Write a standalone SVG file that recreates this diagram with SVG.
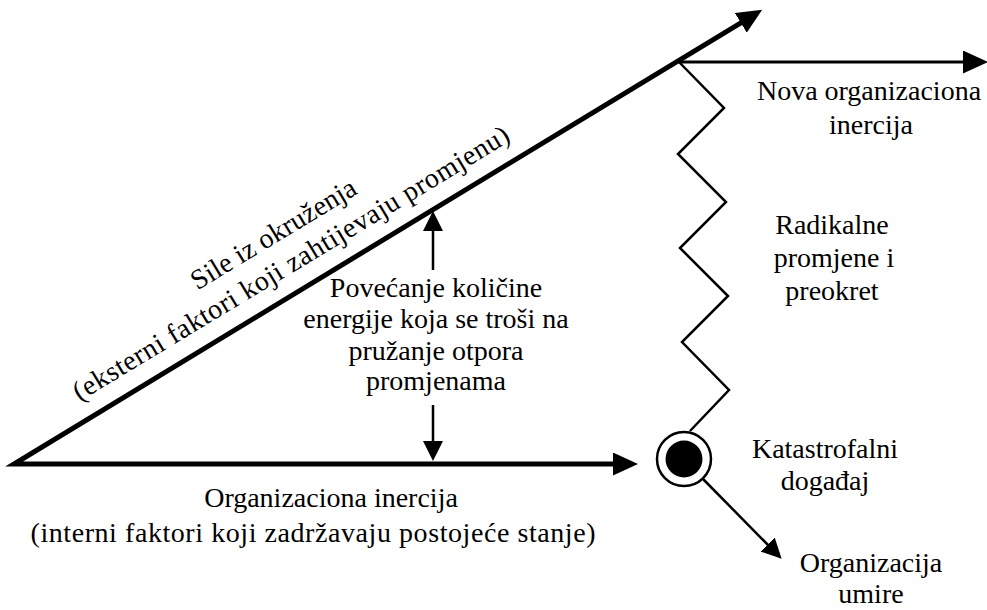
<svg xmlns="http://www.w3.org/2000/svg" width="987" height="610" viewBox="0 0 987 610">
<defs>
<style>
text{font-family:"Liberation Serif","Times New Roman",serif;font-size:28px;fill:#000;text-anchor:middle}
.thick{fill:none;stroke:#000;stroke-width:5;stroke-linejoin:miter}
.mid{fill:none;stroke:#000;stroke-width:3}
.thin{fill:none;stroke:#000;stroke-width:2.5}
</style>
<marker id="ah" markerUnits="userSpaceOnUse" markerWidth="25" markerHeight="23" refX="2" refY="11.5" orient="auto-start-reverse" viewBox="0 0 25 23">
<path d="M0,0 L25,11.5 L0,23 z" fill="#000"/>
</marker>
<marker id="ahs" markerUnits="userSpaceOnUse" markerWidth="20" markerHeight="20" refX="2" refY="10" orient="auto-start-reverse" viewBox="0 0 20 20">
<path d="M0,0 L20,10 L0,20 z" fill="#000"/>
</marker>
</defs>
<rect width="987" height="610" fill="#fff"/>
<g id="connectors">
<path class="thick" d="M742.5,21.8 L14,464 L615,464" marker-start="url(#ah)" marker-end="url(#ah)"/>
<path class="mid" d="M679,62 L965,62" marker-end="url(#ah)"/>
<polyline class="thin" points="679,62 724,108 678,154 726,202 680,248 728,296 682,342 729,390 690,431"/>
<path class="thin" d="M433,270 L433,229" marker-end="url(#ahs)"/>
<path class="thin" d="M433,405 L433,443" marker-end="url(#ahs)"/>
<path class="thin" d="M703,479 L769,546" marker-end="url(#ahs)"/>
</g>
<g id="event">
<circle cx="684" cy="459" r="27" fill="#fff" stroke="#000" stroke-width="2.5"/>
<circle cx="684" cy="459" r="18.5" fill="#000"/>
</g>
<g id="label-sile" transform="translate(306,288) rotate(-31.15)">
<text x="0" y="-54">Sile iz okruženja</text>
<text x="0" y="-20" textLength="505" lengthAdjust="spacing">(eksterni faktori koji zahtijevaju promjenu)</text>
</g>
<g id="label-nova">
<text x="869" y="100">Nova organizaciona</text>
<text x="871" y="134">inercija</text>
</g>
<g id="label-radikalne">
<text x="832" y="234">Radikalne</text>
<text x="834" y="267">promjene i</text>
<text x="832" y="300">preokret</text>
</g>
<g id="label-katastrofalni">
<text x="825" y="458">Katastrofalni</text>
<text x="825" y="490">događaj</text>
</g>
<g id="label-umire">
<text x="871" y="572">Organizacija</text>
<text x="871" y="603">umire</text>
</g>
<g id="label-energija">
<text x="436" y="297">Povećanje količine</text>
<text x="436" y="328">energije koja se troši na</text>
<text x="436" y="360">pružanje otpora</text>
<text x="436" y="390">promjenama</text>
</g>
<g id="label-inercija">
<text x="331" y="507">Organizaciona inercija</text>
<text x="313" y="542" textLength="565" lengthAdjust="spacing">(interni faktori koji zadržavaju postojeće stanje)</text>
</g>
</svg>
